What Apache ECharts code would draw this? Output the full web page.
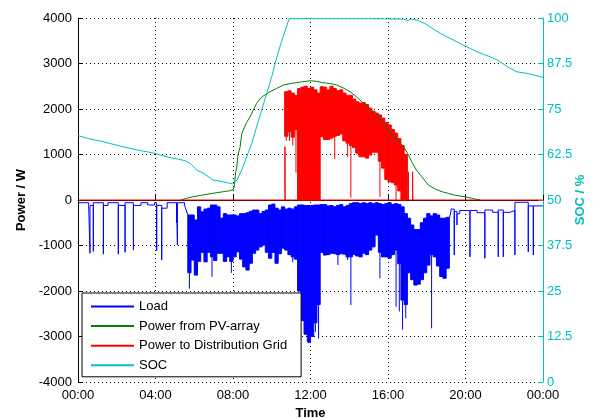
<!DOCTYPE html>
<html>
<head>
<meta charset="utf-8">
<script src="https://cdn.jsdelivr.net/npm/echarts/dist/echarts.min.js"></script>
<style>
  html, body { margin: 0; padding: 0; background: #fff; }
  #main { width: 594px; height: 418px; }
</style>
</head>
<body>
<div id="main"></div>
<script>
// load during the night (thin line with fridge spikes), hours / W
var morningT = [0, 0.55, 0.55, 0.62, 0.62, 0.62, 0.79, 0.79, 0.79, 1.31, 1.31, 1.31, 1.55, 1.55, 2.08, 2.08, 2.08, 2.43, 2.43, 2.43,
  2.86, 2.86, 2.86, 3.25, 3.25, 3.6, 3.6, 3.95, 3.95, 4.06, 4.06, 4.06, 4.32, 4.32, 4.32, 4.6, 4.6, 5.09, 5.09, 5.09,
  5.13, 5.13, 5.13, 5.5, 5.5, 5.6, 5.67];
var morningW = [-60, -60, -120, -120, -1170, -120, -120, -1130, -60, -60, -1190, -120, -120, -60, -60, -1190, -120, -120, -1150, -60,
  -60, -1100, -120, -120, -60, -60, -110, -110, -60, -60, -1110, -120, -120, -1320, -180, -180, -60, -60, -500, -60,
  -60, -990, -60, -60, -120, -120, -330];
var eveningT = [19.17, 19.25, 19.25, 19.42, 19.42, 19.42, 19.56, 19.56, 19.56, 19.7, 19.7, 20.23, 20.23, 20.23, 20.6, 20.6,
  21.0, 21.0, 21.0, 21.4, 21.4, 21.69, 21.69, 21.69, 21.95, 21.95, 21.95, 22.3, 22.3, 22.55, 22.55, 22.55,
  23.24, 23.24, 23.24, 23.5, 23.5, 23.5, 24];
var eveningW = [-400, -250, -200, -200, -1210, -250, -250, -550, -300, -300, -230, -230, -1250, -230, -230, -280,
  -280, -1280, -220, -220, -270, -270, -1250, -220, -220, -1250, -270, -270, -230, -230, -1210, -50,
  -50, -1140, -130, -130, -1210, -130, -130];

// load during the day, per 10-minute bin starting at 05:40 (bin 34)
var loadStart = 34;
var loadTop = [-330, -330, -440, -150, -260, -200, -180, -110, -110, -150, -400, -300, -330, -330, -330, -350, -300, -300, -280, -250,
  -220, -220, -300, -250, -220, -110, -90, -180, -220, -150, -200, -180, -200, -150, -110, -110, -120, -120, -120, -110,
  -110, -100, -100, -130, -120, -150, -120, -100, -150, -120, -80, -60, -60, -80, -60, -80, -60, -80, -60, -80,
  -100, -80, -60, -100, -80, -100, -150, -300, -400, -550, -650, -650, -500, -400, -300, -350, -300, -330, -400, -400, -380];
var loadBot = [-1600, -1320, -1650, -1350, -1150, -1360, -1150, -1250, -1330, -1170, -1170, -1350, -1250, -1350, -1250, -1140, -1300, -1470, -1540, -1390,
  -1170, -1100, -1030, -990, -1150, -1280, -1150, -1390, -1180, -1060, -1100, -1200, -1250, -1300, -2000, -2650, -2950, -3120, -3000, -2700,
  -2300, -1150, -1210, -1200, -1170, -1180, -1200, -1180, -1190, -1250, -1250, -1200, -1230, -1250, -1170, -1200, -1100, -1030, -770, -1150,
  -1250, -1250, -1280, -1200, -1100, -1400, -2200, -2300, -1600, -1750, -1870, -1850, -1750, -1600, -1430, -1200, -1250, -1450, -1680, -1720, -1500];
var loadLow = [-1950, -1320, -1650, -1350, -1150, -1360, -1150, -1690, -1330, -1170, -1170, -1350, -1250, -1600, -1250, -1140, -1300, -1470, -1540, -1390,
  -1170, -1100, -1030, -990, -1150, -1280, -1150, -1390, -1180, -1060, -1100, -1200, -1370, -1300, -2000, -2650, -2950, -3150, -3000, -2900,
  -3050, -1150, -1210, -1200, -1170, -1180, -1430, -1180, -1190, -1320, -2310, -1200, -1230, -1250, -1170, -1200, -1100, -1030, -770, -1720,
  -1250, -1250, -1280, -1200, -2350, -2450, -2850, -2600, -1600, -1750, -1870, -1850, -1750, -1600, -1430, -2820, -1250, -1450, -1680, -1720, -1500];

// PV power, hours / W
var pvT = [5.3, 5.78, 6.45, 7.17, 7.85, 8.03, 8.08, 8.13, 8.19, 8.26, 8.36, 8.45, 8.53, 8.7, 8.88, 9.05, 9.22, 9.5, 9.91, 10.2,
  10.6, 10.95, 11.29, 11.6, 11.97, 12.3, 12.62, 13.0, 13.35, 13.7, 14.04, 14.4, 14.73, 15.1, 15.42, 15.75, 16.1, 16.45, 16.8, 17.05,
  17.22, 17.48, 17.74, 18.08, 18.43, 18.8, 19.1, 19.5, 19.97, 20.4, 20.75];
var pvW = [0, 59, 110, 161, 205, 240, 350, 600, 700, 1000, 1150, 1450, 1540, 1700, 1830, 1980, 2125, 2270, 2380, 2440,
  2527, 2560, 2580, 2600, 2620, 2610, 2580, 2560, 2527, 2460, 2380, 2260, 2125, 2000, 1868, 1700, 1500, 1330, 1171, 1000,
  842, 650, 512, 330, 242, 180, 147, 100, 73, 30, 0];

// power to grid: zero line with thin spikes, hours / W
var gridT = [0, 10.68, 10.68, 10.69, 17.05, 17.05, 17.06, 17.27, 17.27, 17.28, 24];
var gridW = [0, 0, 1170, 0, 0, 620, 0, 0, 620, 0, 0];

// power to grid, per 10-minute bin starting at 10:40 (bin 64)
var gridStart = 64;
var gridTop = [2380, 2400, 2350, 2300, 2450, 2480, 2500, 2450, 2480, 2420, 2350, 2490, 2480, 2420, 2500, 2450, 2400, 2420, 2350, 2300,
  2300, 2220, 2160, 2130, 2140, 2100, 2020, 1950, 1910, 1870, 1800, 1700, 1650, 1550, 1470, 1350, 1200, 1000];
var gridBot = [1400, 1500, 1380, 1550, 0, 0, 0, 0, 0, 0, 0, 1390, 1330, 1330, 1360, 1400, 1420, 1450, 1300, 1250,
  1200, 1150, 1030, 950, 950, 920, 990, 1050, 1050, 850, 700, 450, 400, 380, 330, 200, 0, 0];
var gridLow = [1300, 1300, 1200, 600, 0, 0, 0, 0, 0, 0, 0, 1390, 1330, 1330, 1360, 900, 1420, 1450, 1300, 950,
  50, 1150, 1030, 950, 950, 920, 990, 1050, 1050, 70, 700, 450, 400, 380, 0, 200, 0, 0];

// state of charge, hours / %
var socT = [0, 0.6, 1.3, 2.2, 3.0, 3.9, 4.6, 5.2, 5.52, 5.8, 6.14, 6.45, 6.97, 7.48, 8.0, 8.2, 8.45, 8.71, 8.97, 9.22,
  9.48, 9.74, 10.0, 10.22, 10.5, 10.9, 13, 15, 16.8, 17.03, 17.2, 17.5, 17.9, 18.27, 18.7, 19.2, 19.87, 20.6, 21.2, 21.63,
  22.2, 22.66, 23.17, 24];
var socV = [67.7, 66.8, 66.0, 64.8, 63.8, 62.9, 61.8, 61.2, 60.8, 60.0, 58.2, 57.4, 55.5, 55.0, 54.4, 55.5, 58.2, 61.9, 65.6, 70.1,
  74.7, 79.3, 83.9, 88.5, 93.5, 99.8, 99.8, 99.8, 99.7, 99.3, 99.7, 99.4, 98.5, 97.2, 95.8, 94.4, 92.6, 90.7, 89.5, 88.5,
  86.5, 85.2, 84.8, 83.7];

var BLUE = '#0000ff', GREEN = '#008000', RED = '#ff0000', CYAN = '#00bfbf';
var FONT = 'Liberation Sans, Arial, Helvetica, sans-serif';
var BIN = 1 / 6; // 10 minutes in hours

function pairs(ts, ws) {
  return ts.map(function (t, i) { return [t, ws[i]]; });
}
function pad(n) { return (n < 10 ? '0' : '') + n; }

// [bin start, box end a, box end b, wick end]
function binItems(start, a, b, low) {
  return a.map(function (v, k) { return [(start + k) * BIN, v, b[k], low[k]]; });
}

// filled 10-minute block plus a thin spike, placed through the axes
function binRenderer(color) {
  return function (params, api) {
    var t = api.value(0);
    var pa = api.coord([t, api.value(1)]);
    var pb = api.coord([t + BIN, api.value(2)]);
    var pl = api.coord([t + BIN / 2, api.value(3)]);
    var x0 = pa[0], x1 = pb[0];
    var y0 = Math.min(pa[1], pb[1]), y1 = Math.max(pa[1], pb[1]);
    return {
      type: 'group',
      children: [{
        type: 'rect',
        shape: { x: x0, y: y0, width: x1 - x0, height: y1 - y0 },
        style: { fill: color, stroke: color, lineWidth: 1 }
      }, {
        type: 'line',
        shape: { x1: pl[0], y1: y1, x2: pl[0], y2: Math.max(pl[1], y1) },
        style: { stroke: color, lineWidth: 1 }
      }]
    };
  };
}

var loadLine = pairs(morningT, morningW).concat([[12, '-']], pairs(eveningT, eveningW));

var chart = echarts.init(document.getElementById('main'), null, { renderer: 'canvas' });
var option = {
  animation: false,
  textStyle: { fontFamily: FONT },
  grid: { left: 78, right: 51, top: 18, bottom: 36, outerBoundsMode: 'none' },
  legend: {
    left: 82, top: 293,
    orient: 'vertical',
    backgroundColor: '#fff',
    borderColor: '#000', borderWidth: 1, borderRadius: 0,
    padding: [7, 14, 5, 8],
    itemWidth: 43, itemHeight: 14, itemGap: 6.6,
    selectedMode: false,
    itemStyle: { opacity: 0 },
    textStyle: { fontSize: 13, color: '#000', fontFamily: FONT },
    data: ['Load', 'Power from PV-array', 'Power to Distribution Grid', 'SOC']
  },
  xAxis: {
    type: 'value', min: 0, max: 24, interval: 4,
    name: 'Time', nameLocation: 'middle', nameGap: 22,
    nameTextStyle: { fontWeight: 'bold', fontSize: 13, color: '#000' },
    axisLine: { lineStyle: { color: '#000', width: 1 } },
    axisTick: { inside: true, length: 5, lineStyle: { color: '#000' } },
    axisLabel: {
      color: '#000', fontSize: 13, margin: 7,
      formatter: function (v) { return pad(v % 24) + ':00'; }
    },
    splitLine: { show: true, lineStyle: { color: '#000', type: [1, 3], width: 1 } }
  },
  yAxis: [{
    type: 'value', min: -4000, max: 4000, interval: 1000,
    name: 'Power / W', nameLocation: 'middle', nameGap: 45, nameRotate: 90,
    nameTextStyle: { fontWeight: 'bold', fontSize: 13, color: '#000' },
    axisLine: { show: true, lineStyle: { color: '#000', width: 1 } },
    axisTick: { show: true, inside: true, length: 5, lineStyle: { color: '#000' } },
    axisLabel: { color: '#000', fontSize: 13, margin: 6, formatter: function (v) { return String(v); } },
    splitLine: { show: true, lineStyle: { color: '#000', type: [1, 3], width: 1 } }
  }, {
    type: 'value', min: 0, max: 100, interval: 12.5, position: 'right',
    name: 'SOC / %', nameLocation: 'middle', nameGap: 31, nameRotate: 90, nameMoveOverlap: false,
    nameTextStyle: { fontWeight: 'bold', fontSize: 13, color: CYAN },
    axisLine: { show: true, lineStyle: { color: CYAN, width: 1 } },
    axisTick: { show: true, inside: true, length: 5, lineStyle: { color: CYAN } },
    axisLabel: { color: CYAN, fontSize: 13, margin: 4, formatter: function (v) { return String(v); } },
    splitLine: { show: false }
  }],
  series: [
    {
      name: 'Load', type: 'line', data: loadLine, symbol: 'none', connectNulls: false,
      lineStyle: { color: BLUE, width: 1 }, itemStyle: { color: BLUE }, silent: true
    },
    {
      name: 'Load', type: 'custom', renderItem: binRenderer(BLUE),
      data: binItems(loadStart, loadTop, loadBot, loadLow),
      encode: { x: 0, y: [1, 2, 3] }, itemStyle: { color: BLUE }, silent: true
    },
    {
      name: 'Power from PV-array', type: 'line', data: pairs(pvT, pvW), symbol: 'none',
      lineStyle: { color: GREEN, width: 1 }, itemStyle: { color: GREEN }, silent: true
    },
    {
      name: 'Power to Distribution Grid', type: 'line', data: pairs(gridT, gridW), symbol: 'none',
      lineStyle: { color: RED, width: 1 }, itemStyle: { color: RED }, silent: true
    },
    {
      name: 'Power to Distribution Grid', type: 'custom', renderItem: binRenderer(RED),
      data: binItems(gridStart, gridTop, gridBot, gridLow),
      encode: { x: 0, y: [1, 2, 3] }, itemStyle: { color: RED }, silent: true
    },
    {
      name: 'SOC', type: 'line', yAxisIndex: 1, data: pairs(socT, socV), symbol: 'none',
      lineStyle: { color: CYAN, width: 1 }, itemStyle: { color: CYAN }, silent: true
    }
  ]
};
chart.setOption(option);
</script>
</body>
</html>
